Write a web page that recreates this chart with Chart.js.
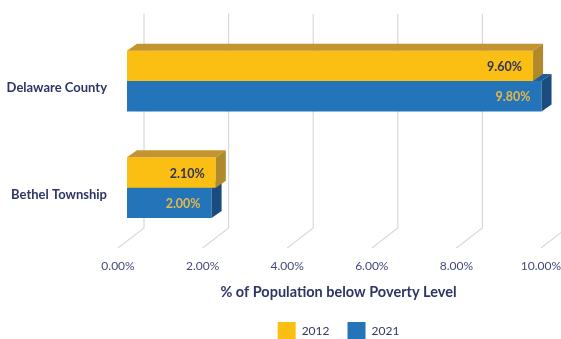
<!DOCTYPE html>
<html lang="en">
<head>
    <meta charset="UTF-8">
    <title>Poverty Level</title>
    <script src="https://cdn.jsdelivr.net/npm/chart.js"></script>
    <style>
        html, body { margin: 0; padding: 0; background: #ffffff; }
        .grafico { width: 561px; height: 339px; }
    </style>
</head>
<body>
    <div class="grafico">
        <canvas id="myChart"></canvas>
    </div>
<script>
    // dados
    var categorias = ['Delaware County', 'Bethel Township']
    var anos = ['2012', '2021']
    var valores2012 = [9.60, 2.10]
    var valores2021 = [9.80, 2.00]
    var ticksX = [0, 2, 4, 6, 8, 10]

    // cores de cada face (frente, topo, lado) e do rotulo
    var cores = [
        { frente: '#FBBE13', topo: '#C3942F', lado: '#B0892C', rotulo: '#2F3458' },
        { frente: '#2374B9', topo: '#1F5E9C', lado: '#1B4C7E', rotulo: '#E6B84B' }
    ]

    // profundidade do efeito 3D
    var prof = { dx: 10, dy: 7 }

    var fonte = 'Lato, "Liberation Sans", sans-serif'

    // grade em perspectiva: parede do fundo + linhas do chao
    var grade3d = {
        id: 'grade3d',
        beforeDatasetsDraw(chart) {
            var ctx = chart.ctx
            var area = chart.chartArea
            var x = chart.scales.x
            ctx.save()
            ctx.strokeStyle = '#d9d9d9'
            ctx.lineWidth = 1.2
            ticksX.forEach(function (v) {
                var px = x.getPixelForValue(v)
                ctx.beginPath()
                ctx.moveTo(px + 17, area.top - 14)
                ctx.lineTo(px + 17, area.bottom - 13)
                ctx.lineTo(px - 9, area.bottom + 7)
                ctx.stroke()
            })
            ctx.restore()
        },
        afterDatasetDraw(chart, args) {
            var ctx = chart.ctx
            var c = cores[args.index]
            ctx.save()
            args.meta.data.forEach(function (barra) {
                var p = barra.getProps(['x', 'y', 'base', 'height'], true)
                var topoY = p.y - p.height / 2
                var baseY = p.y + p.height / 2
                // topo
                ctx.fillStyle = c.topo
                ctx.beginPath()
                ctx.moveTo(p.base, topoY)
                ctx.lineTo(p.x, topoY)
                ctx.lineTo(p.x + prof.dx, topoY - prof.dy)
                ctx.lineTo(p.base + prof.dx, topoY - prof.dy)
                ctx.closePath()
                ctx.fill()
                // lado
                ctx.fillStyle = c.lado
                ctx.beginPath()
                ctx.moveTo(p.x, topoY)
                ctx.lineTo(p.x + prof.dx, topoY - prof.dy)
                ctx.lineTo(p.x + prof.dx, baseY - prof.dy)
                ctx.lineTo(p.x, baseY)
                ctx.closePath()
                ctx.fill()
            })
            ctx.restore()
        },
        afterDatasetsDraw(chart) {
            var ctx = chart.ctx
            ctx.save()
            ctx.font = 'bold 12.5px ' + fonte
            ctx.textAlign = 'right'
            ctx.textBaseline = 'middle'
            chart.data.datasets.forEach(function (ds, i) {
                var meta = chart.getDatasetMeta(i)
                ctx.fillStyle = cores[i].rotulo
                meta.data.forEach(function (barra, j) {
                    var p = barra.getProps(['x', 'y'], true)
                    ctx.fillText(ds.data[j].toFixed(2) + '%', p.x - 11, p.y + 1)
                })
            })
            ctx.restore()
        }
    }

    const ctx = document.getElementById('myChart')

    var grafico = new Chart(ctx, {
        type: 'bar',
        data: {
            labels: categorias,
            datasets: [{
                label: anos[0],
                data: valores2012,
                backgroundColor: cores[0].frente,
                borderWidth: 0
            }, {
                label: anos[1],
                data: valores2021,
                backgroundColor: cores[1].frente,
                borderWidth: 0
            }]
        },
        options: {
            indexAxis: 'y',
            responsive: true,
            maintainAspectRatio: false,
            animation: false,
            categoryPercentage: 0.57,
            barPercentage: 1,
            layout: {
                padding: { top: 27, right: 11, left: 0, bottom: -11 }
            },
            scales: {
                x: {
                    min: 0,
                    max: 10,
                    afterFit: function (s) {
                        s.height = 63
                        s.paddingLeft = 0
                        s.paddingRight = 0
                    },
                    afterBuildTicks: function (s) {
                        s.ticks = ticksX.map(function (v) { return { value: v } })
                    },
                    grid: { display: false, drawTicks: false },
                    border: { display: false },
                    ticks: {
                        autoSkip: false,
                        maxRotation: 0,
                        padding: 18,
                        labelOffset: -9,
                        color: '#434A7A',
                        font: { family: fonte, size: 12 },
                        callback: function (v) { return Number(v).toFixed(2) + '%' }
                    },
                    title: {
                        display: true,
                        text: '% of Population below Poverty Level',
                        color: '#2E3566',
                        font: { family: fonte, size: 14.5, weight: 'bold' },
                        padding: { top: 0, bottom: 3 }
                    }
                },
                y: {
                    afterFit: function (s) { s.width = 127 },
                    grid: { display: false, drawTicks: false },
                    border: { display: false },
                    ticks: {
                        padding: 20,
                        labelOffset: 7,
                        color: '#2E3566',
                        font: { family: fonte, size: 13, weight: 'bold' }
                    }
                }
            },
            plugins: {
                legend: {
                    position: 'bottom',
                    fullSize: false,
                    labels: {
                        boxWidth: 18,
                        boxHeight: 18,
                        padding: 18,
                        color: '#333A5C',
                        font: { family: fonte, size: 12 }
                    }
                },
                tooltip: { enabled: false }
            }
        },
        plugins: [grade3d]
    })
</script>
</body>
</html>
